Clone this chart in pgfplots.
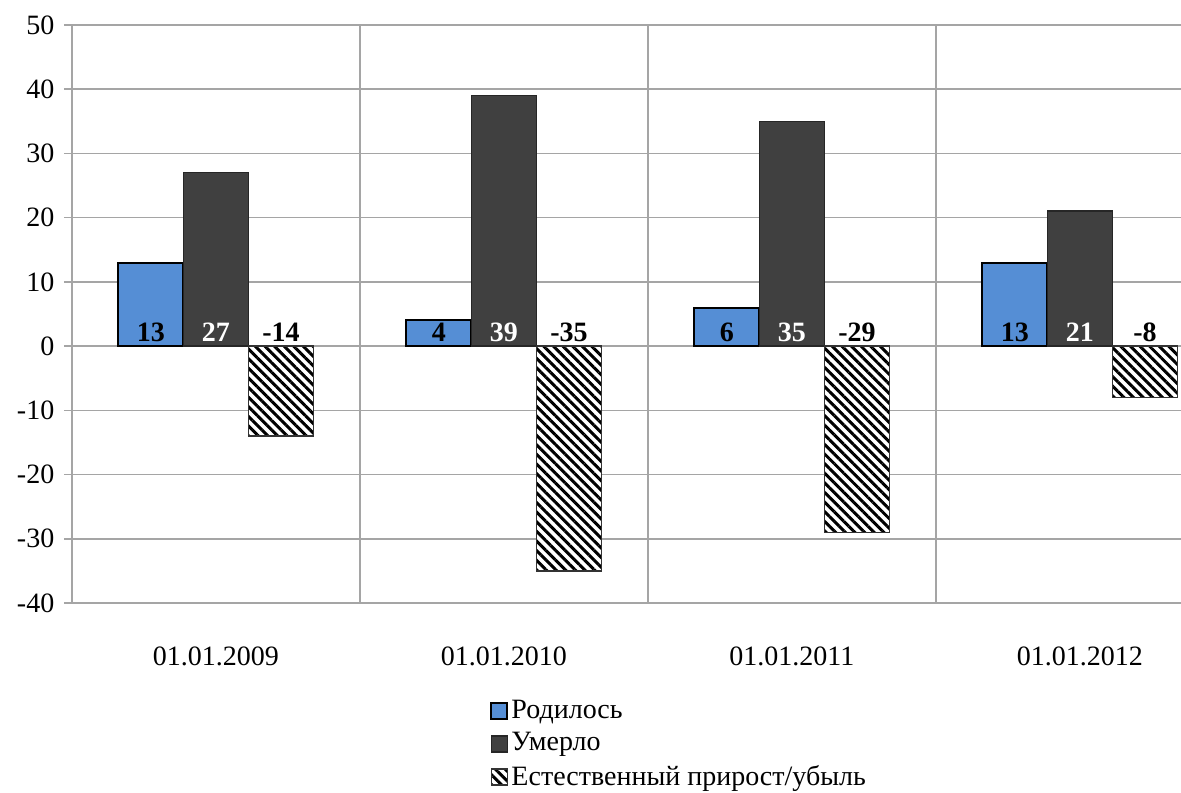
\documentclass[border=0pt]{standalone}
\usepackage{pgfplots}
\pgfplotsset{compat=1.18}
\usepackage{fontspec}
\setmainfont{Liberation Serif}
\usetikzlibrary{patterns.meta}

\definecolor{rodBlue}{RGB}{85,142,213}
\definecolor{umDark}{RGB}{64,64,64}
\definecolor{gridGray}{RGB}{165,165,165}

\pgfplotsset{
  sqleg/.style={legend image code/.code={\draw[##1] (0pt,-4pt) rectangle (8pt,4pt);}},
  vallab/.style={only marks, mark=none, forget plot,
    nodes near coords, point meta=explicit symbolic,
    every node near coord/.append style={anchor=south, font=\bfseries, text=#1, inner sep=2pt}},
}

\begin{document}
\fontsize{14}{17}\selectfont
\begin{tikzpicture}
\begin{axis}[
  name=ax,
  scale only axis,
  width=554.5pt, height=289pt,
  xmin=-0.5, xmax=3.351,
  ymin=-40, ymax=50,
  ytick={-40,-30,...,50},
  xtick={0,1,2,3},
  xticklabels={01.01.2009,01.01.2010,01.01.2011,01.01.2012},
  minor xtick={0.5,1.5,2.5},
  ymajorgrids, xminorgrids,
  grid style={gridGray, line width=0.8pt},
  axis x line*=bottom, axis y line*=left,
  x axis line style={draw=none},
  y axis line style={gridGray, line width=0.8pt, -},
  every major x tick/.style={draw=none},
  every minor x tick/.style={draw=none},
  every major y tick/.style={gridGray, line width=0.8pt},
  tick align=outside,
  major tick length=4pt,
  xticklabel style={yshift=-13pt},
  /pgf/number format/assume math mode=true,
  legend style={at={(0.377,-0.162)}, anchor=north west, draw=none, fill=none,
    inner sep=0pt, row sep=2pt, nodes={inner sep=1.5pt}},
  legend cell align=left,
]

% Родилось
\addplot[ybar, bar width=0.2257, bar shift=-0.2257, fill=rodBlue, draw=black, line width=1pt, sqleg]
  coordinates {(0,13) (1,4) (2,6) (3,13)};
% Умерло
\addplot[ybar, bar width=0.2257, bar shift=0, fill=umDark, draw=black!85, line width=0.8pt, sqleg]
  coordinates {(0,27) (1,39) (2,35) (3,21)};
% Естественный прирост/убыль
\addplot[ybar, bar width=0.2257, bar shift=0.2257, fill=white, draw=black!80, line width=0.8pt,
  postaction={pattern={Lines[angle=-45,distance=3.4pt,line width=1.5pt]}, pattern color=black}, sqleg]
  coordinates {(0,-14) (1,-35) (2,-29) (3,-8)};

\legend{Родилось, Умерло, Естественный прирост/убыль}

% value labels, set on the zero line under each bar
\addplot[vallab=black] coordinates {(-0.2257,0)[13] (0.7743,0)[4] (1.7743,0)[6] (2.7743,0)[13]};
\addplot[vallab=white] coordinates {(0,0)[27] (1,0)[39] (2,0)[35] (3,0)[21]};
\addplot[vallab=black] coordinates {(0.2257,0)[-14] (1.2257,0)[-35] (2.2257,0)[-29] (3.2257,0)[-8]};
\end{axis}
\pgfresetboundingbox
\path[use as bounding box] ([xshift=-36pt,yshift=-95pt]ax.south west) rectangle ([yshift=12.5pt]ax.north east);
\end{tikzpicture}
\end{document}
